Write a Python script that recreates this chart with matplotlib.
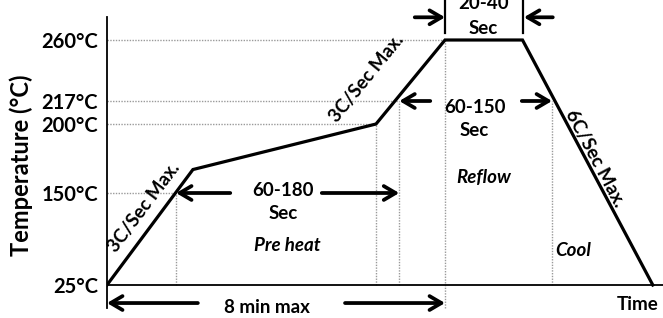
import numpy as np
import matplotlib
matplotlib.use("Agg")
import matplotlib.pyplot as plt
from matplotlib.patches import FancyArrowPatch

plt.rcParams['font.family'] = ['Lato', 'DejaVu Sans']
plt.rcParams['font.weight'] = 'bold'

# reflow profile (time in seconds, temperature in °C)
profile_time = [0, 122, 382, 480, 590, 775]
profile_temp = [25, 167, 200, 260, 260, 25]

# y ticks and their (schematic, non-linear) height above the 25°C line
tick_temps = [25, 150, 200, 217, 260]
tick_pos = [0, 92, 161, 184, 245]
tick_labels = ["25°C", "150°C", "200°C", "217°C", "260°C"]

# where the profile crosses the reference levels
t_150 = 98
t_soak_end = 382
t_217_up = 415
t_peak_start = 480
t_peak_end = 590
t_217_down = 632


def _slopes():
    lo = (tick_pos[1] - tick_pos[0]) / (tick_temps[1] - tick_temps[0])
    hi = (tick_pos[-1] - tick_pos[-2]) / (tick_temps[-1] - tick_temps[-2])
    return lo, hi


def fwd(t):
    t = np.asarray(t, float)
    lo, hi = _slopes()
    out = np.interp(t, tick_temps, tick_pos)
    out = np.where(t < tick_temps[0], tick_pos[0] + (t - tick_temps[0]) * lo, out)
    out = np.where(t > tick_temps[-1], tick_pos[-1] + (t - tick_temps[-1]) * hi, out)
    return out


def inv(h):
    h = np.asarray(h, float)
    lo, hi = _slopes()
    out = np.interp(h, tick_pos, tick_temps)
    out = np.where(h < tick_pos[0], tick_temps[0] + (h - tick_pos[0]) / lo, out)
    out = np.where(h > tick_pos[-1], tick_temps[-1] + (h - tick_pos[-1]) / hi, out)
    return out


fig = plt.figure(figsize=(6.63, 3.18), dpi=100)
ax = fig.add_axes([107 / 663, 10 / 318, 556 / 663, 291 / 318])
ax.set_yscale('function', functions=(fwd, inv))
ax.set_xlim(0, 789.5)
ax.set_ylim(float(inv(-23)), float(inv(268)))

for s in ['top', 'right', 'bottom']:
    ax.spines[s].set_visible(False)
ax.spines['left'].set_linewidth(1.3)
ax.set_xticks([])
ax.set_yticks(tick_temps, labels=tick_labels)
ax.tick_params(axis='y', length=0, pad=6.5, labelsize=14.5)

# time axis
ax.axhline(25, color='black', lw=1.3, zorder=3)

# grey dotted guides
dot = dict(color='#9a9a9a', lw=1, ls=(0, (1, 1)), zorder=1)
ax.plot([0, t_peak_start], [260, 260], **dot)
ax.plot([0, t_217_up], [217, 217], **dot)
ax.plot([0, t_soak_end], [200, 200], **dot)
ax.plot([0, t_150], [150, 150], **dot)
ax.plot([t_150, t_150], [25, 150], **dot)
ax.plot([t_soak_end, t_soak_end], [25, 200], **dot)
ax.plot([t_217_up, t_217_up], [25, 217], **dot)
ax.plot([t_peak_start, t_peak_start], [-6, 260], clip_on=False, **dot)
ax.plot([t_217_down, t_217_down], [25, 217], **dot)

# profile
ax.plot(profile_time, profile_temp, color='black', lw=2.3, solid_joinstyle='miter', zorder=4)


def arrow(x0, x1, y):
    ax.add_patch(FancyArrowPatch((x0, y), (x1, y), arrowstyle='->,head_length=0.85,head_width=0.5',
                                 mutation_scale=10, lw=2.7, color='black', shrinkA=0, shrinkB=0,
                                 clip_on=False, zorder=5))


arrow(175, t_150, 150)
arrow(305, t_217_up, 150)
arrow(459, t_217_up, 217)
arrow(589, t_217_down, 217)
arrow(129, 0, 0.5)
arrow(338, t_peak_start, 0.5)
arrow(437, t_peak_start, 276)
arrow(633, t_peak_end + 2, 276)

# peak duration bars
for t in (t_peak_start, t_peak_end):
    ax.plot([t, t], [265, 289], color='black', lw=1.6, clip_on=False)

txt = dict(fontsize=13.5, ha='center', va='center', clip_on=False)
ax.text(250, 152, "60-180", **txt)
ax.text(250, 122, "Sec", **txt)
ax.text(256, 79, "Pre heat", style='italic', **txt)
ax.text(522, 212, "60-150", **txt)
ax.text(522, 195, "Sec", **txt)
ax.text(535, 161, "Reflow", style='italic', **txt)
ax.text(662, 72, "Cool", style='italic', **txt)
ax.text(534, 286, "20-40", **txt)
ax.text(534, 268, "Sec", **txt)
ax.text(227, -5, "8 min max", **txt)
ax.text(754, -2, "Time", **txt)
ax.text(52, 130, "3C/Sec Max.", rotation=53, rotation_mode='anchor', **txt)
ax.text(368, 233, "3C/Sec Max.", rotation=51, rotation_mode='anchor', **txt)
ax.text(693, 175, "6C/Sec Max.", rotation=-62, rotation_mode='anchor', **txt)

fig.text(21 / 663, 1 - 165 / 318, "Temperature (°C)", rotation=90, fontsize=17,
         ha='center', va='center')

fig.savefig("out.png", dpi=100)
